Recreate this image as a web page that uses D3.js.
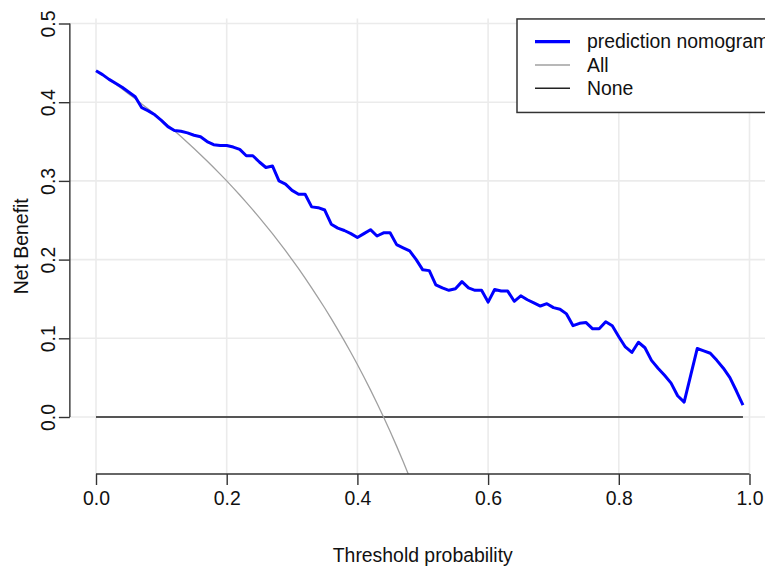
<!DOCTYPE html>
<html>
<head>
<meta charset="utf-8">
<script src="https://cdn.jsdelivr.net/npm/d3@7"></script>
<style>
  html, body { margin: 0; padding: 0; background: #fff; }
  svg { display: block; font-family: "Liberation Sans", Arial, sans-serif; }
</style>
</head>
<body>
<svg id="chart" width="765" height="568"></svg>
<script>
// threshold probabilities, 0.00 .. 0.99
const thresholds = d3.range(100).map(i => i / 100);

// net benefit of the nomogram
const nomogramNB = [
  0.440, 0.435, 0.429, 0.424, 0.419, 0.413, 0.407, 0.393, 0.389, 0.384,
  0.377, 0.369, 0.364, 0.363, 0.361, 0.358, 0.356, 0.350, 0.346, 0.345,
  0.345, 0.343, 0.340, 0.332, 0.332, 0.324, 0.317, 0.319, 0.300, 0.296,
  0.288, 0.283, 0.283, 0.267, 0.266, 0.263, 0.245, 0.240, 0.237, 0.233,
  0.228, 0.233, 0.238, 0.230, 0.234, 0.234, 0.219, 0.215, 0.211, 0.200,
  0.187, 0.186, 0.168, 0.164, 0.161, 0.163, 0.172, 0.164, 0.161, 0.161,
  0.146, 0.162, 0.160, 0.160, 0.147, 0.154, 0.149, 0.145, 0.141, 0.144,
  0.139, 0.137, 0.131, 0.116, 0.119, 0.120, 0.112, 0.112, 0.121, 0.116,
  0.102, 0.089, 0.082, 0.095, 0.088, 0.072, 0.062, 0.053, 0.043, 0.027,
  0.019, 0.053, 0.087, 0.084, 0.081, 0.072, 0.062, 0.050, 0.033, 0.015
];

// "treat all" curve, 0.00 .. 0.48 (goes below the plot after that)
const allNB = [
  0.4400, 0.4343, 0.4286, 0.4227, 0.4167, 0.4105, 0.4043, 0.3978, 0.3913, 0.3846,
  0.3778, 0.3708, 0.3636, 0.3563, 0.3488, 0.3412, 0.3333, 0.3253, 0.3171, 0.3086,
  0.3000, 0.2911, 0.2821, 0.2727, 0.2632, 0.2533, 0.2432, 0.2329, 0.2222, 0.2113,
  0.2000, 0.1884, 0.1765, 0.1642, 0.1515, 0.1385, 0.1250, 0.1111, 0.0968, 0.0820,
  0.0667, 0.0508, 0.0345, 0.0175, 0.0000, -0.0182, -0.0370, -0.0566, -0.0769
];

const xTicks = [0, 0.2, 0.4, 0.6, 0.8, 1.0];
const yTicks = [0, 0.1, 0.2, 0.3, 0.4, 0.5];

const legendItems = [
  { label: "prediction nomogram", color: "#0000ff", width: 3.2 },
  { label: "All", color: "#a0a0a0", width: 1.3 },
  { label: "None", color: "#222", width: 1.6 }
];

const FONT = 19.4;

const svg = d3.select("#chart");
const x = d3.scaleLinear().domain([0, 1]).range([96, 749.5]);
const y = d3.scaleLinear().domain([0, 0.5]).range([417, 23.5]);

// plot region (R style 4% padding)
const px0 = x(-0.04), px1 = x(1.04);
const py0 = y(0.5064), py1 = y(-0.0724);

svg.append("defs").append("clipPath").attr("id", "plotClip")
  .append("rect")
  .attr("x", px0).attr("y", py0)
  .attr("width", px1 - px0).attr("height", py1 - py0);

// grid
const grid = svg.append("g").attr("stroke", "#ebebeb").attr("stroke-width", 1.6);
grid.selectAll("line.gx").data(xTicks).join("line")
  .attr("class", "gx")
  .attr("x1", d => x(d)).attr("x2", d => x(d))
  .attr("y1", py0).attr("y2", py1);
grid.selectAll("line.gy").data(yTicks).join("line")
  .attr("class", "gy")
  .attr("x1", px0).attr("x2", px1)
  .attr("y1", d => y(d)).attr("y2", d => y(d));

const plot = svg.append("g").attr("clip-path", "url(#plotClip)");

const line = d3.line().x(d => x(d[0])).y(d => y(d[1]));

// None
plot.append("path")
  .attr("d", line([[thresholds[0], 0], [thresholds[thresholds.length - 1], 0]]))
  .attr("fill", "none").attr("stroke", "#222").attr("stroke-width", 1.6);

// All
plot.append("path")
  .attr("d", line(allNB.map((v, i) => [thresholds[i], v])))
  .attr("fill", "none").attr("stroke", "#a0a0a0").attr("stroke-width", 1.3);

// nomogram
plot.append("path")
  .attr("d", line(nomogramNB.map((v, i) => [thresholds[i], v])))
  .attr("fill", "none").attr("stroke", "#0000ff").attr("stroke-width", 3)
  .attr("stroke-linejoin", "round");

// x axis
const xAxis = svg.append("g")
  .attr("transform", `translate(0,${py1})`)
  .call(d3.axisBottom(x).tickValues(xTicks).tickFormat(d3.format(".1f")).tickSize(11).tickPadding(6));
xAxis.select(".domain").attr("stroke", "#333").attr("stroke-width", 1.4).attr("d", `M${x(0)},0H${x(1)}`);
xAxis.selectAll(".tick line").attr("stroke", "#333").attr("stroke-width", 1.4);
xAxis.selectAll(".tick text").attr("font-size", FONT).attr("fill", "#111")
  .attr("font-family", "Liberation Sans, Arial, sans-serif");

// y axis
const yAxis = svg.append("g")
  .attr("transform", `translate(${px0},0)`)
  .call(d3.axisLeft(y).tickValues(yTicks).tickFormat(d3.format(".1f")).tickSize(11));
yAxis.select(".domain").attr("stroke", "#333").attr("stroke-width", 1.4).attr("d", `M0,${y(0)}V${y(0.5)}`);
yAxis.selectAll(".tick line").attr("stroke", "#333").attr("stroke-width", 1.4);
yAxis.selectAll(".tick text")
  .attr("font-size", FONT).attr("fill", "#111")
  .attr("font-family", "Liberation Sans, Arial, sans-serif")
  .attr("x", null)
  .attr("text-anchor", "middle")
  .attr("transform", "translate(-22,0) rotate(-90)")
  .attr("y", 0)
  .attr("dy", "0.36em");

// axis titles
svg.append("text")
  .attr("x", (x(0) + x(1)) / 2).attr("y", 562)
  .attr("text-anchor", "middle").attr("font-size", FONT).attr("fill", "#111")
  .text("Threshold probability");
svg.append("text")
  .attr("transform", `translate(28,${(py0 + py1) / 2}) rotate(-90)`)
  .attr("text-anchor", "middle").attr("font-size", FONT).attr("fill", "#111")
  .text("Net Benefit");

// legend
const lg = svg.append("g");
lg.append("rect")
  .attr("x", 517).attr("y", py0 + 0.5)
  .attr("width", px1 - 517).attr("height", 93.5)
  .attr("fill", "#fff").attr("stroke", "#333").attr("stroke-width", 1.5);
const rows = lg.selectAll("g.row").data(legendItems).join("g")
  .attr("class", "row")
  .attr("transform", (d, i) => `translate(0,${41.7 + i * 23.3})`);
rows.append("line")
  .attr("x1", 535).attr("x2", 570)
  .attr("stroke", d => d.color).attr("stroke-width", d => d.width);
rows.append("text")
  .attr("x", 587).attr("dy", "0.35em")
  .attr("font-size", FONT).attr("fill", "#111")
  .text(d => d.label);
</script>
</body>
</html>
